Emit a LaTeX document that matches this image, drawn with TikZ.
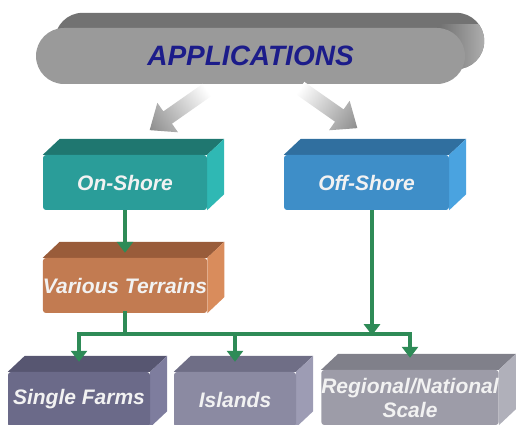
\documentclass[tikz,border=0pt]{standalone}
\usepackage{fontspec}
\setmainfont{Liberation Sans}
\usetikzlibrary{calc, arrows.meta, backgrounds}

\definecolor{wiregreen}{HTML}{2E8B57}
\definecolor{appfront}{HTML}{9A9A9A}
\definecolor{apptop}{HTML}{727272}
\definecolor{appside}{HTML}{B0B0B0}
\definecolor{apptext}{HTML}{1C1C8A}

\newcommand{\boxfont}{\fontsize{21}{24}\selectfont\bfseries\itshape}

% top and side faces behind a front node
\newcommand{\slab}[3]{%
	\fill[#2] (#1.north west) -- ++(\dx,\dy) -- ($(#1.north east)+(\dx,\dy)$) -- (#1.north east) -- cycle;
	\fill[#3] (#1.north east) -- ++(\dx,\dy) -- ($(#1.south east)+(\dx,\dy)$) -- (#1.south east) -- cycle;
}

% broad gray arrow fading towards its tail
\newcommand{\fadearrow}[3]{%
	\begin{scope}[transform canvas={shift={#1}, rotate=#2}]
		\shade[left color=white, right color=black!45]
			(0,-7.5) -- (#3-22,-7.5) -- (#3-22,-18) -- (#3,0) -- (#3-22,18) -- (#3-22,7.5) -- (0,7.5) -- cycle;
	\end{scope}
}

\tikzset{
	face/.style={rectangle, rounded corners=3pt, minimum height=55pt, inner sep=0pt,
		text=white!95!black, font=\boxfont, align=center},
	wire/.style={draw=wiregreen, line width=4pt, line cap=rect},
	link/.style={draw=wiregreen, line width=4pt, -{Triangle[width=16pt,length=11pt]}},
}

\begin{document}
\begin{tikzpicture}[x=1pt, y=1pt]
	\def\dx{17}
	\def\dy{16}

	\useasboundingbox (0,0) rectangle (516,425);

	\node[rectangle, rounded corners=28pt, minimum width=429pt, minimum height=56pt, fill=appfront,
		text=apptext, font=\fontsize{28}{32}\selectfont\bfseries\itshape] (apps) at (250.5,369) {APPLICATIONS};

	\node[face, minimum width=164pt, fill={rgb,255:red,42;green,157;blue,153}] (onshore) at (125,242.5) {On-Shore};
	\node[face, minimum width=165pt, fill={rgb,255:red,62;green,142;blue,200}] (offshore) at (366.5,242.5) {Off-Shore};
	\node[face, minimum width=164pt, fill={rgb,255:red,194;green,123;blue,81}] (terrain) at (125,139.5) {Various Terrains};

	\node[face, minimum width=142pt, fill={rgb,255:red,107;green,106;blue,137}] (farms) at (79,25.5) {Single Farms};
	\node[face, minimum width=122pt, fill={rgb,255:red,139;green,138;blue,162}] (islands) at (235,25.5) {Islands};
	\node[face, minimum width=177pt, fill={rgb,255:red,157;green,156;blue,168}] (regional) at (410,27.5) {Regional/National\\Scale};

	\begin{scope}[on background layer]
		\fill[apptop, rounded corners=28pt] ($(apps.south west)+(19,15)$) rectangle ($(apps.north east)+(19,15)$);
		\begin{scope}
			\clip[rounded corners=28pt] ($(apps.south west)+(19,15)$) rectangle ($(apps.north east)+(19,15)$);
			\shade[left color=apptop, right color=appside] (440,330) rectangle (486,400);
		\end{scope}

		\slab{onshore}{fill={rgb,255:red,31;green,119;blue,112}}{fill={rgb,255:red,47;green,184;blue,180}}
		\slab{offshore}{fill={rgb,255:red,48;green,111;blue,159}}{fill={rgb,255:red,74;green,163;blue,224}}
		\slab{terrain}{fill={rgb,255:red,153;green,92;blue,58}}{fill={rgb,255:red,217;green,140;blue,92}}
		\slab{farms}{fill={rgb,255:red,87;green,86;blue,113}}{fill={rgb,255:red,126;green,125;blue,158}}
		\slab{islands}{fill={rgb,255:red,111;green,110;blue,134}}{fill={rgb,255:red,157;green,156;blue,180}}
		\slab{regional}{fill={rgb,255:red,128;green,128;blue,138}}{fill={rgb,255:red,176;green,176;blue,186}}
	\end{scope}

	\fadearrow{(207,335)}{215}{70}
	\fadearrow{(300,337)}{-35}{70}

	\coordinate (junction) at ([yshift=-21]terrain.south);

	\draw[link] (onshore.south) -- ([yshift=5]terrain.north);
	\draw[link] ([xshift=5.5]offshore.south) -- ([xshift=5.5,yshift=-1]offshore.south |- junction);
	\draw[wire] (terrain.south) -- (junction);
	\draw[wire] (farms.north |- junction) -- (regional.north |- junction);
	\draw[link] (farms.north |- junction) -- ([yshift=10]farms.north);
	\draw[link] (islands.north |- junction) -- ([yshift=10]islands.north);
	\draw[link] (regional.north |- junction) -- ([yshift=12]regional.north);
\end{tikzpicture}
\end{document}
